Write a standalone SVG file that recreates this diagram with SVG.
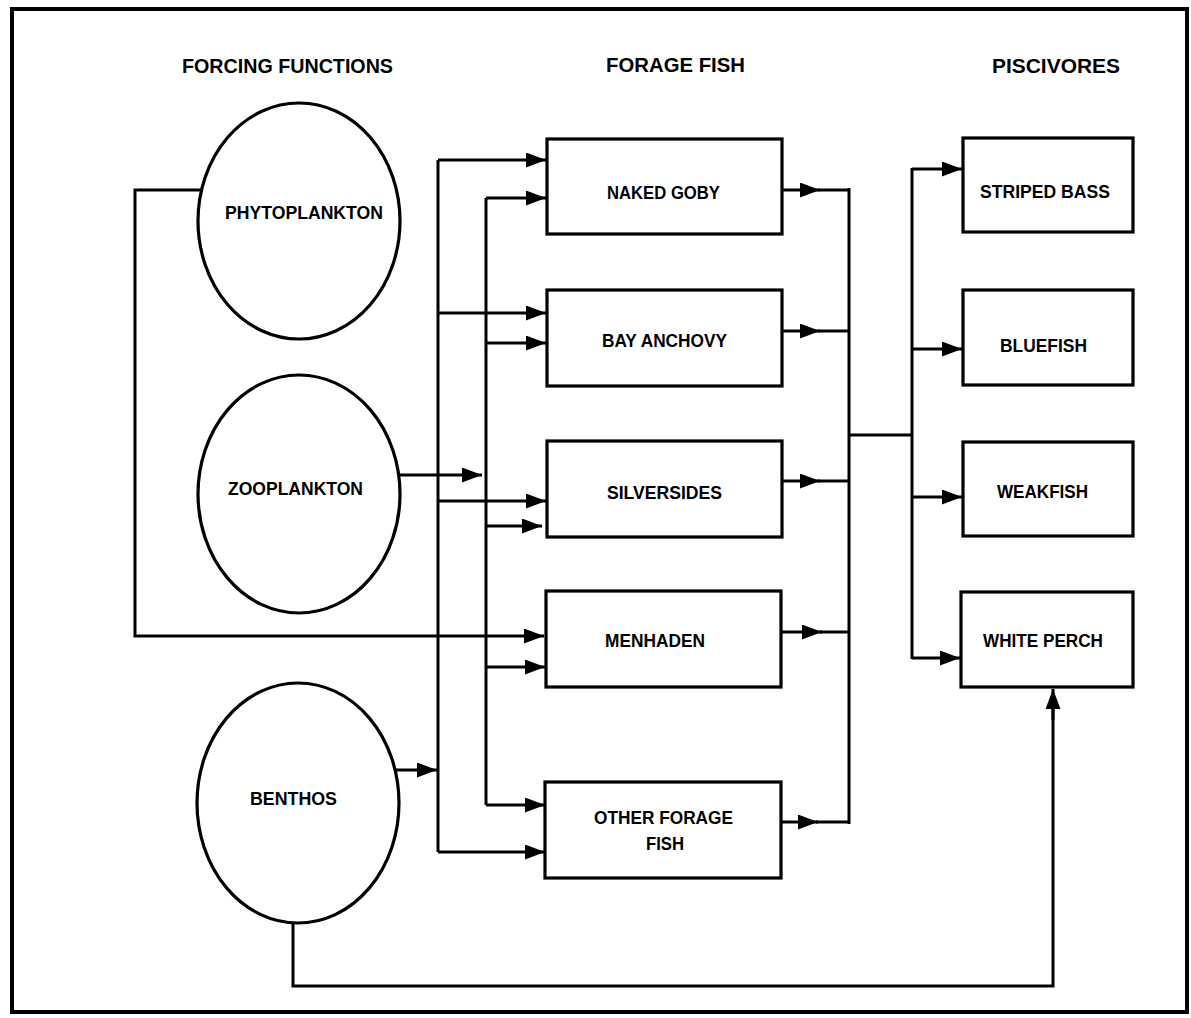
<svg xmlns="http://www.w3.org/2000/svg" width="1191" height="1018" viewBox="0 0 1191 1018">
<defs>
<marker id="arr" markerUnits="userSpaceOnUse" markerWidth="22" markerHeight="16" refX="20" refY="7.5" orient="auto">
<path d="M0,0 L20,7.5 L0,15 z" fill="#000"/>
</marker>
<style>
.node{fill:#fff;stroke:#000;stroke-width:3.2}
.lbl{font-family:"Liberation Sans",Arial,sans-serif;font-weight:bold;font-size:19px;fill:#000}
.hdr{font-family:"Liberation Sans",Arial,sans-serif;font-weight:bold;font-size:20px;fill:#000}
.ln{fill:none;stroke:#000;stroke-width:3}
.ar{fill:none;stroke:#000;stroke-width:3;marker-end:url(#arr)}
</style>
</defs>
<rect x="0" y="0" width="1191" height="1018" fill="#fff"/>
<rect x="12" y="9" width="1175" height="1003" fill="none" stroke="#000" stroke-width="4"/>
<g id="headers">
<text class="hdr" x="182" y="73" textLength="211" lengthAdjust="spacingAndGlyphs">FORCING  FUNCTIONS</text>
<text class="hdr" x="606" y="72" textLength="139" lengthAdjust="spacingAndGlyphs">FORAGE  FISH</text>
<text class="hdr" x="992" y="73" textLength="128" lengthAdjust="spacingAndGlyphs">PISCIVORES</text>
</g>
<g id="connectors">
<path class="ln" d="M200,190 H135 V636 H440"/>
<path class="ar" d="M440,636 H544"/>
<path class="ln" d="M438,160 V852"/>
<path class="ln" d="M486,198 V805"/>
<path class="ar" d="M438,160 H546"/>
<path class="ar" d="M438,313 H546"/>
<path class="ar" d="M438,501 H546"/>
<path class="ar" d="M438,852 H545"/>
<path class="ar" d="M486,198 H546"/>
<path class="ar" d="M486,343 H546"/>
<path class="ar" d="M486,526 H542"/>
<path class="ar" d="M486,667 H545"/>
<path class="ar" d="M486,805 H545"/>
<path class="ar" d="M399,475 H482"/>
<path class="ar" d="M396,770 H437"/>
<path class="ln" d="M293,923 V986 H1053 V705"/>
<path class="ar" d="M1053,720 V689"/>
<path class="ar" d="M782,190 H820"/><path class="ln" d="M818,190 H849"/>
<path class="ar" d="M782,331 H820"/><path class="ln" d="M818,331 H849"/>
<path class="ar" d="M782,481 H820"/><path class="ln" d="M818,481 H849"/>
<path class="ar" d="M781,632 H822"/><path class="ln" d="M820,632 H849"/>
<path class="ar" d="M781,822 H818"/><path class="ln" d="M816,822 H849"/>
<path class="ln" d="M849,188 V824"/>
<path class="ln" d="M849,435 H912"/>
<path class="ln" d="M912,168 V659"/>
<path class="ar" d="M912,169 H962"/>
<path class="ar" d="M912,349 H962"/>
<path class="ar" d="M912,497 H962"/>
<path class="ar" d="M912,658 H960"/>
</g>
<g id="phytoplankton">
<ellipse class="node" cx="299" cy="221" rx="101" ry="118"/>
<text class="lbl" x="225" y="219" textLength="158" lengthAdjust="spacingAndGlyphs">PHYTOPLANKTON</text>
</g>
<g id="zooplankton">
<ellipse class="node" cx="299" cy="494" rx="101" ry="119"/>
<text class="lbl" x="228" y="495" textLength="135" lengthAdjust="spacingAndGlyphs">ZOOPLANKTON</text>
</g>
<g id="benthos">
<ellipse class="node" cx="298" cy="803" rx="101" ry="120"/>
<text class="lbl" x="250" y="805" textLength="87" lengthAdjust="spacingAndGlyphs">BENTHOS</text>
</g>
<g id="naked-goby">
<rect class="node" x="547" y="139" width="235" height="95"/>
<text class="lbl" x="607" y="199" textLength="113" lengthAdjust="spacingAndGlyphs">NAKED GOBY</text>
</g>
<g id="bay-anchovy">
<rect class="node" x="547" y="290" width="235" height="96"/>
<text class="lbl" x="602" y="347" textLength="125" lengthAdjust="spacingAndGlyphs">BAY ANCHOVY</text>
</g>
<g id="silversides">
<rect class="node" x="547" y="441" width="235" height="96"/>
<text class="lbl" x="607" y="499" textLength="115" lengthAdjust="spacingAndGlyphs">SILVERSIDES</text>
</g>
<g id="menhaden">
<rect class="node" x="546" y="591" width="235" height="96"/>
<text class="lbl" x="605" y="647" textLength="100" lengthAdjust="spacingAndGlyphs">MENHADEN</text>
</g>
<g id="other-forage-fish">
<rect class="node" x="545" y="782" width="236" height="96"/>
<text class="lbl" x="594" y="824" textLength="139" lengthAdjust="spacingAndGlyphs">OTHER FORAGE</text>
<text class="lbl" x="646" y="850" textLength="38" lengthAdjust="spacingAndGlyphs">FISH</text>
</g>
<g id="striped-bass">
<rect class="node" x="963" y="138" width="170" height="94"/>
<text class="lbl" x="980" y="198" textLength="130" lengthAdjust="spacingAndGlyphs">STRIPED BASS</text>
</g>
<g id="bluefish">
<rect class="node" x="963" y="290" width="170" height="95"/>
<text class="lbl" x="1000" y="352" textLength="87" lengthAdjust="spacingAndGlyphs">BLUEFISH</text>
</g>
<g id="weakfish">
<rect class="node" x="963" y="442" width="170" height="94"/>
<text class="lbl" x="997" y="498" textLength="91" lengthAdjust="spacingAndGlyphs">WEAKFISH</text>
</g>
<g id="white-perch">
<rect class="node" x="961" y="592" width="172" height="95"/>
<text class="lbl" x="983" y="647" textLength="120" lengthAdjust="spacingAndGlyphs">WHITE PERCH</text>
</g>
</svg>
